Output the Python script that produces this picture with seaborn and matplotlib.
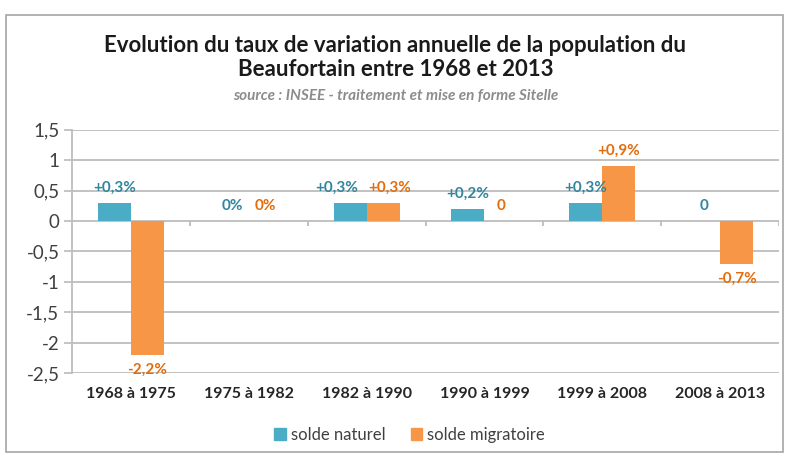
"""Taux de variation annuelle de la population du Beaufortain, 1968-2013."""
import matplotlib
matplotlib.use("Agg")
import matplotlib.pyplot as plt
import matplotlib.transforms as mtransforms
from matplotlib.patches import Rectangle
from matplotlib.ticker import FuncFormatter, MultipleLocator
import pandas as pd
import seaborn as sns

periods = ["1968 à 1975", "1975 à 1982", "1982 à 1990", "1990 à 1999", "1999 à 2008", "2008 à 2013"]
solde_naturel = [0.3, 0.0, 0.3, 0.2, 0.3, 0.0]
solde_migratoire = [-2.2, 0.0, 0.3, 0.0, 0.9, -0.7]
labels_naturel = ["+0,3%", "0%", "+0,3%", "+0,2%", "+0,3%", "0"]
labels_migratoire = ["-2,2%", "0%", "+0,3%", "0", "+0,9%", "-0,7%"]
series_names = ["solde naturel", "solde migratoire"]

BAR_COLORS = ["#4BACC6", "#F79646"]
LABEL_COLORS = ["#31859C", "#E46C0A"]
FONT = ["Lato", "DejaVu Sans"]

df = pd.DataFrame({
    "periode": periods * 2,
    "valeur": solde_naturel + solde_migratoire,
    "serie": [series_names[0]] * len(periods) + [series_names[1]] * len(periods),
})

sns.set_theme(style="white")
plt.rcParams["font.family"] = FONT

fig = plt.figure(figsize=(7.91, 4.57), dpi=100)
ax = fig.add_axes([0.091, 0.184, 0.894, 0.532])

sns.barplot(data=df, x="periode", y="valeur", hue="serie", order=periods,
            hue_order=series_names, palette=BAR_COLORS, width=0.56,
            saturation=1, linewidth=0, ax=ax, legend=False)

all_anns = []
for cont, labs, col in zip(ax.containers, [labels_naturel, labels_migratoire], LABEL_COLORS):
    anns = ax.bar_label(cont, labels=labs, padding=6, color=col, fontsize=11, fontweight="bold")
    all_anns.append(anns)

# Excel nudges the two "+0,3%" labels of 1982-1990 apart so they don't collide
dx, dy = all_anns[0][2].xyann
all_anns[0][2].xyann = (dx - 10, dy)
dx, dy = all_anns[1][2].xyann
all_anns[1][2].xyann = (dx + 5, dy)

ax.set_ylim(-2.5, 1.5)
ax.set_xlim(-0.5, len(periods) - 0.5)
ax.yaxis.set_major_locator(MultipleLocator(0.5))
ax.yaxis.set_major_formatter(FuncFormatter(lambda v, _: f"{v:g}".replace(".", ",")))
ax.grid(axis="y", color="#BDBDBD", linewidth=1.3)
ax.set_axisbelow(True)
for side in ["top", "right", "bottom"]:
    ax.spines[side].set_visible(False)
ax.spines["left"].set_color("#BDBDBD")
ax.spines["left"].set_linewidth(1.3)
ax.tick_params(axis="y", left=True, length=6, color="#BDBDBD", labelsize=13.5,
               labelcolor="#404040", pad=3)
ax.tick_params(axis="x", length=0, labelsize=11.5, labelcolor="#262626", pad=10)
for lab in ax.get_xticklabels():
    lab.set_fontweight("bold")
ax.set_xlabel("")
ax.set_ylabel("")

# little ticks along the zero line between categories
trans = mtransforms.blended_transform_factory(ax.transData, ax.transData)
ax.vlines([i + 0.5 for i in range(len(periods))], -0.08, 0, color="#BDBDBD",
          linewidth=1.3, transform=trans, zorder=1)

fig.text(0.5, 0.900, "Evolution du taux de variation annuelle de la population du",
         ha="center", va="center", fontsize=16, fontweight="bold", color="#1a1a1a")
fig.text(0.5, 0.848, "Beaufortain entre 1968 et 2013",
         ha="center", va="center", fontsize=16, fontweight="bold", color="#1a1a1a")
fig.text(0.5, 0.790, "source : INSEE - traitement et mise en forme Sitelle",
         ha="center", va="center", fontsize=11, fontstyle="italic", fontweight="bold",
         color="#8C8C8C")

handles = [Rectangle((0, 0), 1, 1, color=c) for c in BAR_COLORS]
fig.legend(handles, series_names, loc="center", bbox_to_anchor=(0.518, 0.048),
           ncol=2, frameon=False, fontsize=12, handlelength=0.7, handleheight=0.7,
           handletextpad=0.3, columnspacing=1.5, labelcolor="#404040")

fig.patches.append(Rectangle((0.008, 0.012), 0.982, 0.955, transform=fig.transFigure,
                             fill=False, edgecolor="#A6A6A6", linewidth=1.2))

fig.savefig("out.png", dpi=100)
